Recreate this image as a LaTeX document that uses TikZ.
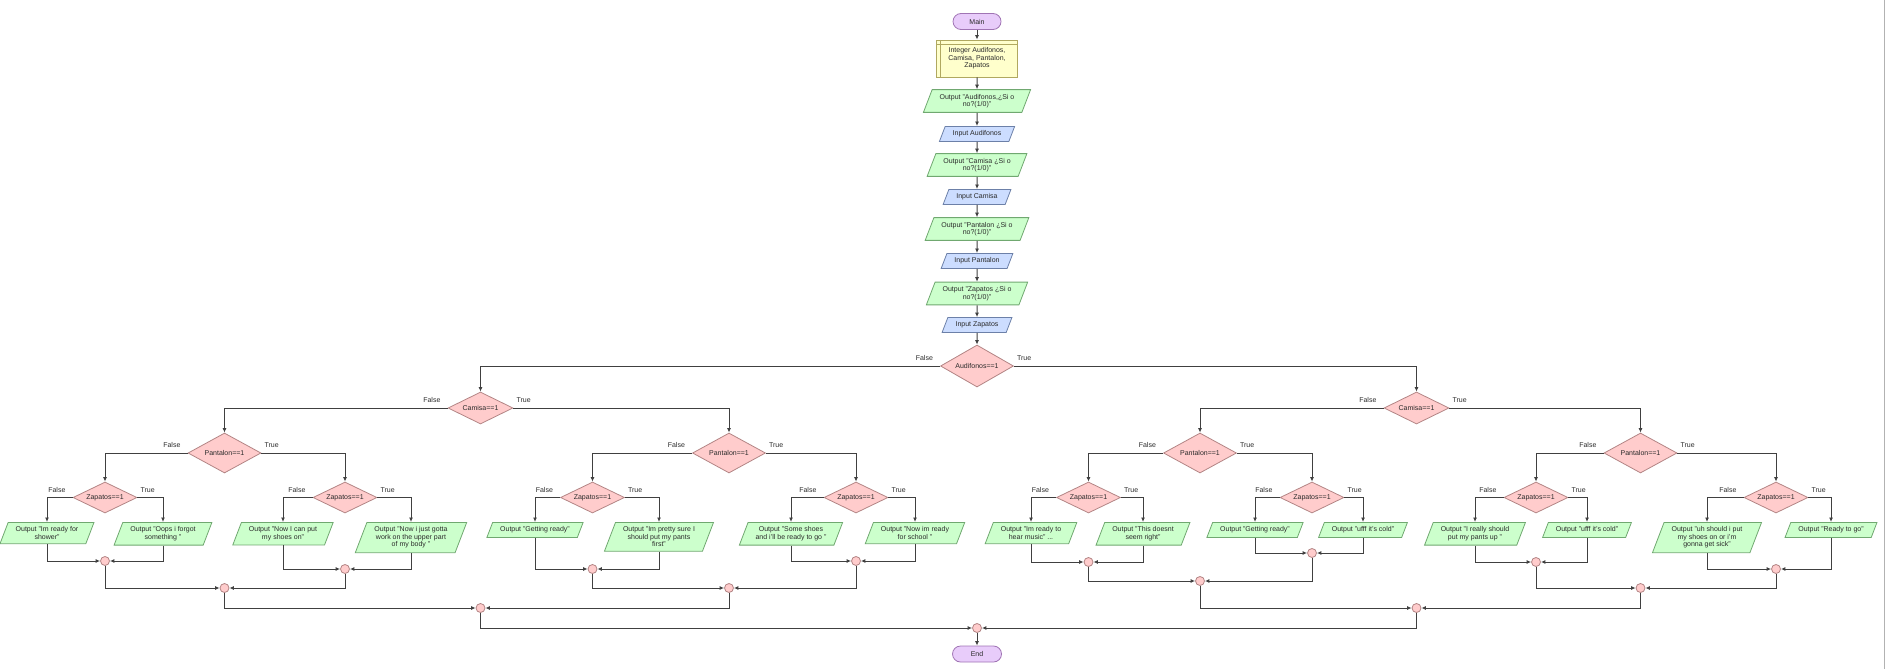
\documentclass[tikz,border=0pt]{standalone}
\usepackage{fontspec}
\setsansfont{Liberation Sans}
\usepackage{xcolor}
\definecolor{ink}{HTML}{2B2B2B}
\definecolor{wire}{HTML}{404040}
\definecolor{termc}{HTML}{E8CCFA}
\definecolor{termd}{HTML}{A074B4}
\definecolor{declc}{HTML}{FFFFCC}
\definecolor{decld}{HTML}{B0A860}
\definecolor{outc}{HTML}{CCFFCC}
\definecolor{outd}{HTML}{70A870}
\definecolor{inpc}{HTML}{CCDDFF}
\definecolor{inpd}{HTML}{6C80A8}
\definecolor{decc}{HTML}{FFCCCC}
\definecolor{decd}{HTML}{B38585}
\usepackage{tikz}
\usetikzlibrary{arrows.meta,positioning,shapes.geometric}

\begin{document}
\begin{tikzpicture}[x=1pt,y=-1pt,every node/.style={font=\sffamily\fontsize{7}{7.6}\selectfont,text=ink}]
\tikzstyle{term}=[rounded corners=8pt,draw=termd,fill=termc,line width=0.8pt,minimum width=48pt,minimum height=16pt]
\tikzstyle{decl}=[draw=decld,fill=declc,line width=0.8pt,minimum width=81pt,minimum height=37pt,align=center,
  path picture={\draw[decld,line width=0.6pt] ([xshift=4pt]path picture bounding box.north west)--([xshift=4pt]path picture bounding box.south west)
  ([yshift=-4pt]path picture bounding box.north west)--([yshift=-4pt]path picture bounding box.north east);}]
\tikzstyle{outp}=[trapezium,trapezium left angle=69,trapezium right angle=111,draw=outd,fill=outc,line width=0.8pt,align=center,inner xsep=7.5pt,inner ysep=4.3pt,minimum height=15pt]
\tikzstyle{inp}=[outp,draw=inpd,fill=inpc]
\tikzstyle{decide}=[diamond,aspect=2,inner sep=0pt,draw=decd,fill=decc,line width=0.8pt]
\tikzstyle{merge}=[circle,draw=decd,fill=decc,line width=0.8pt,minimum size=9pt,inner sep=0pt]
\tikzstyle{lbl}=[inner sep=1pt]
\tikzstyle{arr}=[-{Latex[length=4.5pt,width=4pt]},draw=wire,line width=1pt]
\useasboundingbox (0,0) rectangle (1885,669);
\draw[gray!60,line width=1pt] (1884,0)--(1884,669);
% input part
\node[term] (main) at (977,21.5) {Main};
\node[decl] (vars) at (977,58.5) {Integer Audifonos,\\ Camisa, Pantalon,\\ Zapatos};
\node[outp] (askA) at (977,101) {Output "Audifonos,¿Si o\\ no?(1/0)"};
\node[inp] (getA) at (977,134) {Input Audifonos};
\node[outp] (askC) at (977,165) {Output "Camisa ¿Si o\\ no?(1/0)"};
\node[inp] (getC) at (977,197) {Input Camisa};
\node[outp] (askP) at (977,229) {Output "Pantalon ¿Si o\\ no?(1/0)"};
\node[inp] (getP) at (977,261) {Input Pantalon};
\node[outp] (askZ) at (977,293.5) {Output "Zapatos ¿Si o\\ no?(1/0)"};
\node[inp] (getZ) at (977,325) {Input Zapatos};
\draw[arr] (main)--(vars);
\draw[arr] (vars)--(askA);
\draw[arr] (askA)--(getA);
\draw[arr] (getA)--(askC);
\draw[arr] (askC)--(getC);
\draw[arr] (getC)--(askP);
\draw[arr] (askP)--(getP);
\draw[arr] (getP)--(askZ);
\draw[arr] (askZ)--(getZ);
% decisions
\node[decide,minimum width=73pt,minimum height=42pt] (dA) at (977,366) {Audifonos==1};
\node[decide,minimum width=65pt,minimum height=32pt] (dC1) at (480.5,408) {Camisa==1};
\node[decide,minimum width=65pt,minimum height=32pt] (dC2) at (1416.5,408) {Camisa==1};
\node[decide,minimum width=73pt,minimum height=40pt] (dP1) at (224.5,453) {Pantalon==1};
\node[decide,minimum width=73pt,minimum height=40pt] (dP2) at (729,453) {Pantalon==1};
\node[decide,minimum width=73pt,minimum height=40pt] (dP3) at (1200,453) {Pantalon==1};
\node[decide,minimum width=73pt,minimum height=40pt] (dP4) at (1640.5,453) {Pantalon==1};
\node[decide,minimum width=64pt,minimum height=31pt] (dZ1) at (105,497.5) {Zapatos==1};
\node[decide,minimum width=64pt,minimum height=31pt] (dZ2) at (345,497.5) {Zapatos==1};
\node[decide,minimum width=64pt,minimum height=31pt] (dZ3) at (592.5,497.5) {Zapatos==1};
\node[decide,minimum width=64pt,minimum height=31pt] (dZ4) at (856,497.5) {Zapatos==1};
\node[decide,minimum width=64pt,minimum height=31pt] (dZ5) at (1088.5,497.5) {Zapatos==1};
\node[decide,minimum width=64pt,minimum height=31pt] (dZ6) at (1312,497.5) {Zapatos==1};
\node[decide,minimum width=64pt,minimum height=31pt] (dZ7) at (1536,497.5) {Zapatos==1};
\node[decide,minimum width=64pt,minimum height=31pt] (dZ8) at (1776,497.5) {Zapatos==1};
\foreach \d in {dA,dC1,dC2,dP1,dP2,dP3,dP4,dZ1,dZ2,dZ3,dZ4,dZ5,dZ6,dZ7,dZ8}{
  \node[lbl,above left=4pt and 6pt] (\d-no) at (\d.west) {False};
  \node[lbl,above right=4pt and 2pt] (\d-yes) at (\d.east) {True};
}
\draw[arr] (getZ)--(dA);
\draw[arr] (dA.west) -| (dC1.north);
\draw[arr] (dA.east) -| (dC2.north);
\draw[arr] (dC1.west) -| (dP1.north);
\draw[arr] (dC1.east) -| (dP2.north);
\draw[arr] (dC2.west) -| (dP3.north);
\draw[arr] (dC2.east) -| (dP4.north);
\draw[arr] (dP1.west) -| (dZ1.north);
\draw[arr] (dP1.east) -| (dZ2.north);
\draw[arr] (dP2.west) -| (dZ3.north);
\draw[arr] (dP2.east) -| (dZ4.north);
\draw[arr] (dP3.west) -| (dZ5.north);
\draw[arr] (dP3.east) -| (dZ6.north);
\draw[arr] (dP4.west) -| (dZ7.north);
\draw[arr] (dP4.east) -| (dZ8.north);
% outputs
\node[outp,anchor=north] (outF1) at (47,522) {Output "Im ready for\\ shower"};
\node[outp,anchor=north] (outT1) at (163,522) {Output "Oops i forgot\\ something "};
\node[outp,anchor=north] (outF2) at (283,522) {Output "Now I can put\\ my shoes on"};
\node[outp,anchor=north] (outT2) at (411,522) {Output "Now i just gotta\\ work on the upper part\\ of my body "};
\node[outp,anchor=north] (outF3) at (535,522) {Output "Getting ready"};
\node[outp,anchor=north] (outT3) at (659,522) {Output "Im pretty sure I\\ should put my pants\\ first"};
\node[outp,anchor=north] (outF4) at (791,522) {Output "Some shoes\\ and i'll be ready to go "};
\node[outp,anchor=north] (outT4) at (915,522) {Output "Now im ready\\ for school "};
\node[outp,anchor=north] (outF5) at (1031,522) {Output "Im ready to\\ hear music" ...};
\node[outp,anchor=north] (outT5) at (1143,522) {Output "This doesnt\\ seem right"};
\node[outp,anchor=north] (outF6) at (1255,522) {Output "Getting ready"};
\node[outp,anchor=north] (outT6) at (1363,522) {Output "ufff it's cold"};
\node[outp,anchor=north] (outF7) at (1475,522) {Output "I really should\\ put my pants up "};
\node[outp,anchor=north] (outT7) at (1587,522) {Output "ufff it's cold"};
\node[outp,anchor=north] (outF8) at (1707,522) {Output "uh should i put\\ my shoes on or i'm\\ gonna get sick"};
\node[outp,anchor=north] (outT8) at (1831,522) {Output "Ready to go"};
% joins
\node[merge] (j1) at (105,561) {};
\node[merge] (j2) at (345,569) {};
\node[merge] (j3) at (592.5,569) {};
\node[merge] (j4) at (856,561) {};
\node[merge] (j5) at (1088.5,562) {};
\node[merge] (j6) at (1312,553) {};
\node[merge] (j7) at (1536,562) {};
\node[merge] (j8) at (1776,569) {};
\node[merge] (jp1) at (224.5,588) {};
\node[merge] (jp2) at (729,588) {};
\node[merge] (jp3) at (1200,581) {};
\node[merge] (jp4) at (1640.5,588) {};
\node[merge] (jc1) at (480.5,608) {};
\node[merge] (jc2) at (1416.5,608) {};
\node[merge] (jall) at (977,628) {};
\node[term,minimum width=49pt] (end) at (977,654) {End};
\foreach \k in {1,...,8}{
  \draw[arr] (dZ\k.west) -| (outF\k.north);
  \draw[arr] (dZ\k.east) -| (outT\k.north);
  \draw[arr] (outF\k.south) |- (j\k.west);
  \draw[arr] (outT\k.south) |- (j\k.east);
}
\draw[arr] (j1.south) |- (jp1.west);
\draw[arr] (j2.south) |- (jp1.east);
\draw[arr] (j3.south) |- (jp2.west);
\draw[arr] (j4.south) |- (jp2.east);
\draw[arr] (j5.south) |- (jp3.west);
\draw[arr] (j6.south) |- (jp3.east);
\draw[arr] (j7.south) |- (jp4.west);
\draw[arr] (j8.south) |- (jp4.east);
\draw[arr] (jp1.south) |- (jc1.west);
\draw[arr] (jp2.south) |- (jc1.east);
\draw[arr] (jp3.south) |- (jc2.west);
\draw[arr] (jp4.south) |- (jc2.east);
\draw[arr] (jc1.south) |- (jall.west);
\draw[arr] (jc2.south) |- (jall.east);
\draw[arr] (jall)--(end);
\end{tikzpicture}
\end{document}
